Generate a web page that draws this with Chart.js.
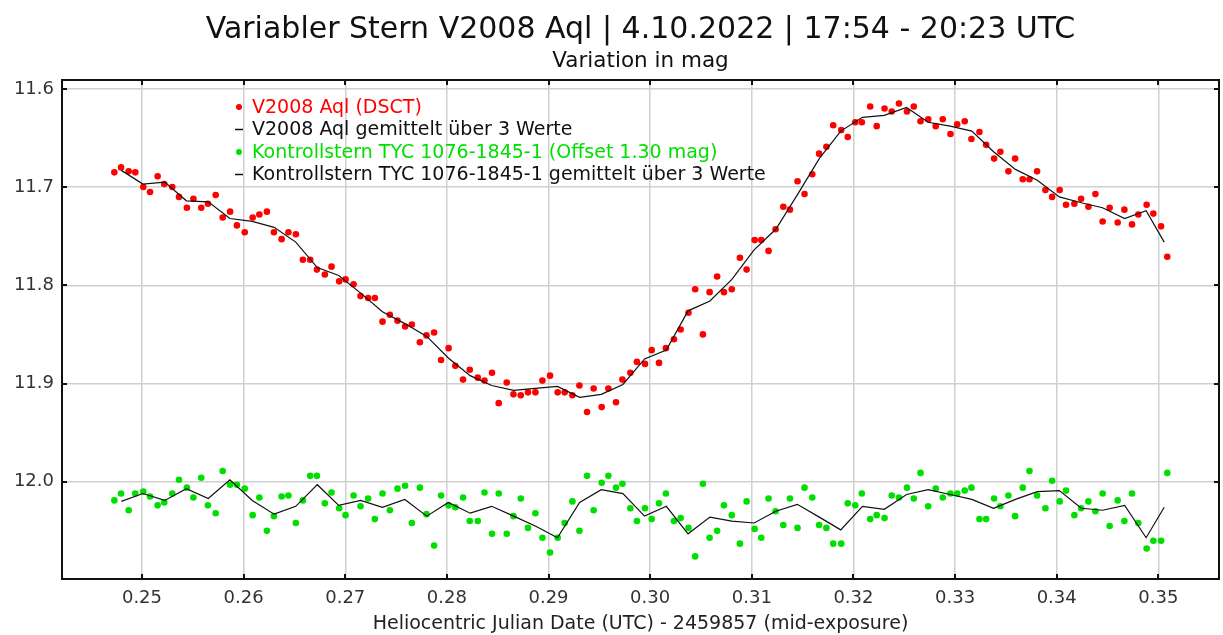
<!DOCTYPE html>
<html>
<head>
<meta charset="utf-8">
<script src="https://cdn.jsdelivr.net/npm/chart.js@4/dist/chart.umd.min.js"></script>
<style>
  html, body { margin: 0; padding: 0; background: #fff; }
  #wrap { width: 1223px; height: 635px; }
</style>
</head>
<body>
<div id="wrap"><canvas id="chartLichtkurve"></canvas></div>
<script>
// Heliozentrisches JD - 2459857 (Mitte der Belichtung)
const jd = [
    0.24728, 0.24794, 0.24869, 0.24934, 0.25013, 0.25079, 0.25154, 0.25219, 0.25298, 0.25364,
    0.25442, 0.25506, 0.25583, 0.25649, 0.25725, 0.25794, 0.25867, 0.25934, 0.26011, 0.26089,
    0.26155, 0.26229, 0.26298, 0.26374, 0.26441, 0.26514, 0.26583, 0.26655, 0.26721, 0.26799,
    0.26865, 0.26940, 0.27003, 0.27082, 0.27150, 0.27225, 0.27291, 0.27367, 0.27439, 0.27514,
    0.27589, 0.27655, 0.27734, 0.27799, 0.27874, 0.27943, 0.28017, 0.28083, 0.28159, 0.28225,
    0.28304, 0.28370, 0.28444, 0.28510, 0.28589, 0.28655, 0.28727, 0.28798, 0.28871, 0.28940,
    0.29015, 0.29090, 0.29159, 0.29235, 0.29304, 0.29379, 0.29444, 0.29523, 0.29589, 0.29664,
    0.29727, 0.29805, 0.29870, 0.29949, 0.30015, 0.30087, 0.30155, 0.30234, 0.30300, 0.30377,
    0.30443, 0.30519, 0.30585, 0.30659, 0.30726, 0.30803, 0.30883, 0.30949, 0.31028, 0.31093,
    0.31165, 0.31234, 0.31310, 0.31375, 0.31450, 0.31519, 0.31595, 0.31662, 0.31734, 0.31801,
    0.31880, 0.31944, 0.32018, 0.32083, 0.32165, 0.32229, 0.32306, 0.32377, 0.32448, 0.32527,
    0.32594, 0.32660, 0.32736, 0.32810, 0.32879, 0.32955, 0.33021, 0.33095, 0.33161, 0.33240,
    0.33306, 0.33384, 0.33446, 0.33525, 0.33591, 0.33666, 0.33732, 0.33807, 0.33889, 0.33955,
    0.34030, 0.34092, 0.34174, 0.34240, 0.34312, 0.34381, 0.34452, 0.34521, 0.34600, 0.34666,
    0.34741, 0.34803, 0.34885, 0.34951, 0.35027, 0.35088
];

// V2008 Aql (DSCT), mag
const starMag = [
    11.685, 11.680, 11.684, 11.685, 11.700, 11.705, 11.689, 11.697, 11.700, 11.710,
    11.721, 11.712, 11.721, 11.717, 11.708, 11.731, 11.725, 11.739, 11.746, 11.731,
    11.728, 11.725, 11.746, 11.753, 11.746, 11.748, 11.774, 11.774, 11.784, 11.789,
    11.781, 11.796, 11.794, 11.799, 11.811, 11.813, 11.813, 11.837, 11.830, 11.836,
    11.842, 11.840, 11.858, 11.851, 11.848, 11.876, 11.864, 11.882, 11.896, 11.886,
    11.894, 11.897, 11.889, 11.920, 11.899, 11.911, 11.912, 11.909, 11.909, 11.897,
    11.892, 11.909, 11.909, 11.912, 11.902, 11.929, 11.905, 11.924, 11.905, 11.919,
    11.896, 11.889, 11.878, 11.880, 11.866, 11.879, 11.864, 11.855, 11.845, 11.828,
    11.804, 11.850, 11.807, 11.791, 11.807, 11.804, 11.772, 11.784, 11.754, 11.754,
    11.765, 11.743, 11.720, 11.723, 11.694, 11.707, 11.687, 11.666, 11.659, 11.637,
    11.642, 11.649, 11.634, 11.634, 11.618, 11.638, 11.620, 11.623, 11.615, 11.623,
    11.618, 11.633, 11.631, 11.638, 11.631, 11.646, 11.636, 11.633, 11.651, 11.644,
    11.657, 11.671, 11.664, 11.684, 11.671, 11.692, 11.692, 11.684, 11.703, 11.710,
    11.703, 11.718, 11.717, 11.712, 11.720, 11.707, 11.735, 11.721, 11.736, 11.723,
    11.738, 11.728, 11.718, 11.727, 11.740, 11.771
];

// Kontrollstern TYC 1076-1845-1, schon mit Offset 1.30 mag
const checkMag = [
    12.019, 12.012, 12.029, 12.012, 12.010, 12.015, 12.024, 12.021, 12.012, 11.998,
    12.006, 12.016, 11.996, 12.024, 12.032, 11.989, 12.003, 12.003, 12.007, 12.034,
    12.016, 12.050, 12.035, 12.015, 12.014, 12.042, 12.019, 11.994, 11.994, 12.022,
    12.011, 12.027, 12.034, 12.014, 12.025, 12.017, 12.038, 12.012, 12.029, 12.007,
    12.004, 12.042, 12.006, 12.033, 12.065, 12.014, 12.024, 12.026, 12.016, 12.040,
    12.040, 12.011, 12.053, 12.012, 12.053, 12.035, 12.017, 12.047, 12.032, 12.057,
    12.072, 12.057, 12.042, 12.020, 12.050, 11.994, 12.029, 12.001, 11.994, 12.006,
    12.002, 12.027, 12.040, 12.027, 12.038, 12.022, 12.012, 12.040, 12.037, 12.047,
    12.076, 12.002, 12.057, 12.050, 12.024, 12.034, 12.063, 12.020, 12.048, 12.057,
    12.017, 12.030, 12.044, 12.017, 12.047, 12.006, 12.016, 12.044, 12.047, 12.063,
    12.063, 12.022, 12.024, 12.012, 12.038, 12.034, 12.037, 12.014, 12.016, 12.006,
    12.017, 11.991, 12.025, 12.007, 12.016, 12.012, 12.012, 12.009, 12.006, 12.038,
    12.038, 12.017, 12.025, 12.014, 12.035, 12.006, 11.989, 12.014, 12.027, 11.999,
    12.020, 12.009, 12.034, 12.027, 12.020, 12.030, 12.012, 12.045, 12.019, 12.040,
    12.012, 12.042, 12.068, 12.060, 12.060, 11.991
];

// gemittelt über 3 Werte
const avgJd = [
    0.24797, 0.25009, 0.25224, 0.25437, 0.25652, 0.25865, 0.26085, 0.26300, 0.26513, 0.26725,
    0.26936, 0.27152, 0.27366, 0.27586, 0.27802, 0.28014, 0.28229, 0.28441, 0.28657, 0.28870,
    0.29088, 0.29306, 0.29519, 0.29732, 0.29945, 0.30159, 0.30373, 0.30588, 0.30804, 0.31023,
    0.31236, 0.31448, 0.31664, 0.31875, 0.32089, 0.32304, 0.32523, 0.32735, 0.32952, 0.33165,
    0.33379, 0.33594, 0.33809, 0.34026, 0.34242, 0.34451, 0.34669, 0.34880, 0.35058
];
const starAvg = [
    11.683, 11.697, 11.695, 11.714, 11.715, 11.732, 11.735, 11.741, 11.756, 11.782,
    11.790, 11.808, 11.827, 11.839, 11.852, 11.874, 11.892, 11.902, 11.907, 11.905,
    11.903, 11.914, 11.911, 11.901, 11.875, 11.866, 11.826, 11.816, 11.794, 11.764,
    11.743, 11.708, 11.671, 11.643, 11.629, 11.627, 11.619, 11.634, 11.638, 11.643,
    11.664, 11.682, 11.693, 11.710, 11.716, 11.721, 11.732, 11.724, 11.756
];
const checkAvg = [
    12.020, 12.012, 12.019, 12.007, 12.017, 11.998, 12.019, 12.033, 12.025, 12.003,
    12.024, 12.019, 12.026, 12.018, 12.035, 12.021, 12.032, 12.025, 12.035, 12.045,
    12.057, 12.021, 12.008, 12.012, 12.035, 12.025, 12.053, 12.036, 12.040, 12.042,
    12.030, 12.023, 12.036, 12.049, 12.025, 12.028, 12.013, 12.008, 12.013, 12.018,
    12.027, 12.018, 12.010, 12.009, 12.027, 12.029, 12.024, 12.057, 12.026
];

const seriesLabels = [
    "V2008 Aql (DSCT)",
    "V2008 Aql gemittelt über 3 Werte",
    "Kontrollstern TYC 1076-1845-1 (Offset 1.30 mag)",
    "Kontrollstern TYC 1076-1845-1 gemittelt über 3 Werte",
];
const titleText = "Variabler Stern V2008 Aql | 4.10.2022 | 17:54 - 20:23 UTC";
const subtitleText = "Variation in mag";

const RED = "#ff0000";
const GREEN = "#00e000";
const FONT = "'DejaVu Sans', Verdana, sans-serif";

const toPoints = (xs, ys) => xs.map((x, i) => ({ x, y: ys[i] }));

// Titel über der Plotfläche zentriert (nicht über dem ganzen Canvas)
const plotTitles = {
    id: "plotTitles",
    afterDraw(chart) {
        const { ctx, chartArea: a } = chart;
        const cx = (a.left + a.right) / 2;
        ctx.save();
        ctx.fillStyle = "#111";
        ctx.textAlign = "center";
        ctx.textBaseline = "middle";
        ctx.font = "30px " + FONT;
        ctx.fillText(titleText, cx, 30);
        ctx.font = "21.5px " + FONT;
        ctx.fillText(subtitleText, cx, 61);
        ctx.restore();
    },
};

// Rahmen mit nach innen zeigenden Ticks (wie im Original)
const frameTicks = {
    id: "frameTicks",
    afterDraw(chart) {
        const { ctx, chartArea: a, scales } = chart;
        const len = 5;
        ctx.save();
        ctx.strokeStyle = "#111";
        ctx.lineWidth = 2;
        ctx.beginPath();
        scales.x.ticks.forEach((t) => {
            const px = Math.round(scales.x.getPixelForValue(t.value));
            ctx.moveTo(px, a.top);
            ctx.lineTo(px, a.top + len);
            ctx.moveTo(px, a.bottom);
            ctx.lineTo(px, a.bottom - len);
        });
        scales.y.ticks.forEach((t) => {
            const py = Math.round(scales.y.getPixelForValue(t.value));
            ctx.moveTo(a.left, py);
            ctx.lineTo(a.left + len, py);
            ctx.moveTo(a.right, py);
            ctx.lineTo(a.right - len, py);
        });
        ctx.stroke();
        ctx.strokeRect(a.left, a.top, a.right - a.left, a.bottom - a.top);
        ctx.restore();
    },
};

// Legende innerhalb des Diagramms
const innerLegend = {
    id: "innerLegend",
    afterDraw(chart) {
        const ctx = chart.ctx;
        const x0 = 239;
        const y0 = 107;
        const rowH = 22.5;
        const colors = [RED, "#111", GREEN, "#111"];
        const markers = ["dot", "dash", "dot", "dash"];
        ctx.save();
        ctx.font = "19px " + FONT;
        ctx.textBaseline = "middle";
        seriesLabels.forEach((label, i) => {
            const y = y0 + i * rowH;
            ctx.fillStyle = colors[i];
            ctx.strokeStyle = "#111";
            if (markers[i] === "dot") {
                ctx.beginPath();
                ctx.arc(x0, y, 3, 0, Math.PI * 2);
                ctx.fill();
            } else {
                ctx.lineWidth = 1.5;
                ctx.beginPath();
                ctx.moveTo(x0 - 4, y);
                ctx.lineTo(x0 + 4, y);
                ctx.stroke();
            }
            ctx.fillText(label, x0 + 13, y + 1);
        });
        ctx.restore();
    },
};

document.addEventListener("DOMContentLoaded", () => {
    const canvas = document.getElementById("chartLichtkurve");
    const ctx = canvas.getContext("2d");

    new Chart(ctx, {
        type: "scatter",
        data: {
            datasets: [
                {
                    label: seriesLabels[1],
                    data: toPoints(avgJd, starAvg),
                    showLine: true,
                    borderColor: "#111",
                    borderWidth: 1.2,
                    pointRadius: 0,
                    order: 0,
                },
                {
                    label: seriesLabels[3],
                    data: toPoints(avgJd, checkAvg),
                    showLine: true,
                    borderColor: "#111",
                    borderWidth: 1.2,
                    pointRadius: 0,
                    order: 0,
                },
                {
                    label: seriesLabels[0],
                    data: toPoints(jd, starMag),
                    backgroundColor: RED,
                    borderWidth: 0,
                    pointRadius: 3.3,
                    order: 1,
                },
                {
                    label: seriesLabels[2],
                    data: toPoints(jd, checkMag),
                    backgroundColor: GREEN,
                    borderWidth: 0,
                    pointRadius: 3.3,
                    order: 1,
                },
            ],
        },
        options: {
            responsive: true,
            maintainAspectRatio: false,
            animation: false,
            layout: {
                padding: { left: 0, right: 3, top: 80, bottom: 0 },
            },
            plugins: {
                legend: { display: false },
                tooltip: { enabled: false },
                title: { display: false },
                subtitle: { display: false },
            },
            scales: {
                x: {
                    type: "linear",
                    min: 0.24213,
                    max: 0.35597,
                    afterFit: (s) => {
                        s.height = 56;
                    },
                    grid: {
                        color: "#d0d0d0",
                        lineWidth: 1.5,
                        drawTicks: false,
                    },
                    border: { display: false },
                    ticks: {
                        stepSize: 0.01,
                        includeBounds: false,
                        padding: 9,
                        color: "#333",
                        font: { family: FONT, size: 18 },
                        callback: (v) => v.toFixed(2),
                    },
                    title: {
                        display: true,
                        text: "Heliocentric Julian Date (UTC) - 2459857 (mid-exposure)",
                        color: "#222",
                        font: { family: FONT, size: 19 },
                        padding: { top: 0, bottom: 0 },
                    },
                },
                y: {
                    type: "linear",
                    reverse: true,
                    min: 11.591,
                    max: 12.099,
                    afterFit: (s) => {
                        s.width = 62;
                    },
                    grid: {
                        color: "#d0d0d0",
                        lineWidth: 1.5,
                        drawTicks: false,
                    },
                    border: { display: false },
                    ticks: {
                        stepSize: 0.1,
                        includeBounds: false,
                        padding: 8,
                        color: "#333",
                        font: { family: FONT, size: 18 },
                        callback: (v) => v.toFixed(1),
                    },
                },
            },
        },
        plugins: [plotTitles, frameTicks, innerLegend],
    });
});
</script>
</body>
</html>
